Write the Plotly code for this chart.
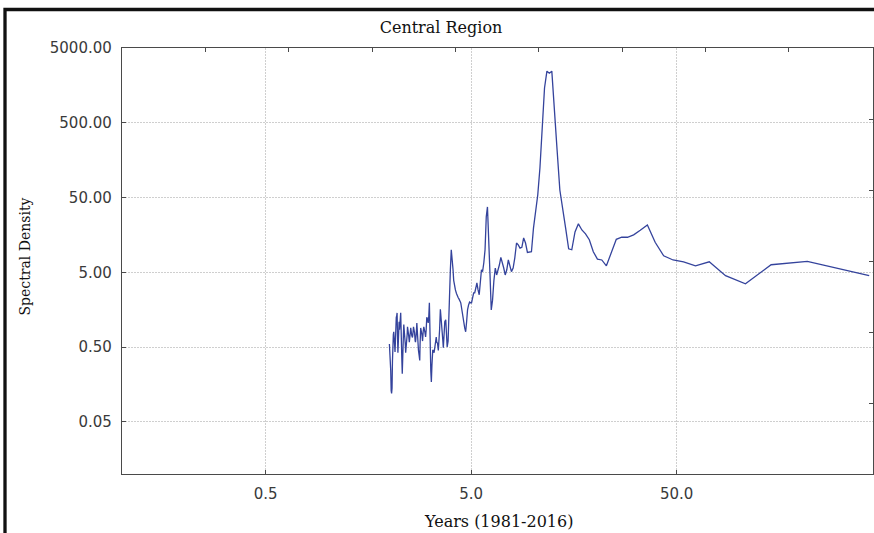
import plotly.graph_objects as go

# Period (x axis) of each periodogram harmonic, k = 1 .. 216
periods = [
    432, 216, 144, 108, 86.4, 72, 61.71, 54, 48, 43.2,
    39.27, 36, 33.23, 30.86, 28.8, 27, 25.41, 24, 22.74, 21.6,
    20.57, 19.64, 18.78, 18, 17.28, 16.62, 16, 15.43, 14.9, 14.4,
    13.94, 13.5, 13.09, 12.71, 12.34, 12, 11.68, 11.37, 11.08, 10.8,
    10.54, 10.29, 10.05, 9.82, 9.6, 9.39, 9.19, 9, 8.82, 8.64,
    8.47, 8.31, 8.15, 8, 7.85, 7.71, 7.58, 7.45, 7.32, 7.2,
    7.08, 6.97, 6.86, 6.75, 6.65, 6.55, 6.45, 6.35, 6.26, 6.17,
    6.08, 6, 5.92, 5.84, 5.76, 5.68, 5.61, 5.54, 5.47, 5.4,
    5.33, 5.27, 5.2, 5.14, 5.08, 5.02, 4.97, 4.91, 4.85, 4.8,
    4.75, 4.7, 4.65, 4.6, 4.55, 4.5, 4.45, 4.41, 4.36, 4.32,
    4.28, 4.24, 4.19, 4.15, 4.11, 4.08, 4.04, 4, 3.96, 3.93,
    3.89, 3.86, 3.82, 3.79, 3.76, 3.72, 3.69, 3.66, 3.63, 3.6,
    3.57, 3.54, 3.51, 3.48, 3.46, 3.43, 3.4, 3.38, 3.35, 3.32,
    3.3, 3.27, 3.25, 3.22, 3.2, 3.18, 3.15, 3.13, 3.11, 3.09,
    3.06, 3.04, 3.02, 3, 2.98, 2.96, 2.94, 2.92, 2.9, 2.88,
    2.86, 2.84, 2.82, 2.81, 2.79, 2.77, 2.75, 2.73, 2.72, 2.7,
    2.68, 2.67, 2.65, 2.63, 2.62, 2.6, 2.59, 2.57, 2.56, 2.54,
    2.53, 2.51, 2.5, 2.48, 2.47, 2.45, 2.44, 2.43, 2.41, 2.4,
    2.39, 2.37, 2.36, 2.35, 2.34, 2.32, 2.31, 2.3, 2.29, 2.27,
    2.26, 2.25, 2.24, 2.23, 2.22, 2.2, 2.19, 2.18, 2.17, 2.16,
    2.15, 2.14, 2.13, 2.12, 2.11, 2.1, 2.09, 2.08, 2.07, 2.06,
    2.05, 2.04, 2.03, 2.02, 2.01, 2,
]

# Spectral density, same order as periods
density = [
    4.5, 7.0, 6.3, 3.5, 4.5, 6.9, 6.1, 6.9, 7.3, 8.3,
    12.6, 21.5, 18.2, 15.8, 14.7, 14.7, 13.8, 9.1, 6.1, 7.3,
    7.5, 9.4, 13.6, 16.3, 18.4, 22.2, 17.3, 10.0, 10.3, 19.6,
    34, 63, 216, 697, 2450, 2300, 2450, 1460, 400, 124,
    54, 32, 19.6, 9.4, 9.2, 9.2, 12.3, 14.4, 10.8, 10.5,
    11.6, 12.3, 7.8, 5.7, 5.1, 6.3, 7.3, 5.4, 4.6, 5.7,
    6.7, 7.9, 6.3, 5.4, 4.6, 5.7, 3.9, 2.1, 1.57, 4.9,
    13.6, 37.4, 27.5, 10, 6.7, 5.1, 5.4, 3.2, 2.5, 2.9,
    3.6, 3.1, 2.65, 2.65, 2.1, 1.95, 1.95, 2.0, 1.8, 1.57,
    1.09, 0.8, 0.9, 1.05, 1.3, 1.6, 1.95, 2.1, 2.2, 2.3,
    2.4, 2.6, 2.9, 3.4, 3.9, 5.4, 8.3, 10, 5.4, 2.1,
    1.43, 0.6, 0.5, 0.85, 1.16, 1.09, 0.73, 0.49, 0.67, 0.93,
    1.3, 1.6, 0.85, 0.54, 0.45, 0.56, 0.58, 0.68, 0.54, 0.43,
    0.42, 0.45, 0.45, 0.28, 0.17, 0.24, 0.85, 1.95, 1.3, 1.05,
    1.2, 1.25, 0.85, 0.68, 0.78, 0.9, 0.93, 0.8, 0.6, 0.73,
    0.85, 0.9, 0.54, 0.33, 0.39, 0.45, 0.67, 0.9, 1.05, 0.73,
    0.58, 0.6, 0.78, 0.9, 0.93, 0.73, 0.67, 0.71, 0.85, 0.9,
    0.8, 0.68, 0.58, 0.73, 0.85, 0.93, 0.73, 0.6, 0.45, 0.42,
    0.54, 0.73, 0.9, 1.0, 0.73, 0.39, 0.22, 0.33, 0.85, 1.43,
    1.2, 1.09, 0.85, 1.09, 0.73, 0.42, 0.73, 1.43, 1.3, 1.25,
    0.85, 0.54, 0.43, 0.54, 0.6, 0.8, 0.73, 0.54, 0.33, 0.14,
    0.12, 0.13, 0.24, 0.45, 0.54, 0.55,
]

x_tick_vals = [0.5, 5, 50]
x_tick_text = ["0.5", "5.0", "50.0"]
y_tick_vals = [0.05, 0.5, 5, 50, 500, 5000]
y_tick_text = ["0.05", "0.50", "5.00", "50.00", "500.00", "5000.00"]

title_text = "Central Region"
x_title = "Years (1981-2016)"
y_title = "Spectral Density"

W, H = 874, 533
ML, MR, MT, MB = 122, 1, 48, 59
PW, PH = W - ML - MR, H - MT - MB

def px_x(p):
    return (p - ML) / PW

def px_y(p):
    return (H - MB - p) / PH

serif = "DejaVu Serif"
sans = "DejaVu Sans"
axis_col = "#4a4a4a"
grid_col = "#cfcfcf"

fig = go.Figure()
fig.add_trace(go.Scatter(
    x=periods, y=density, mode="lines",
    line=dict(color="#34439c", width=1.3),
    showlegend=False, hoverinfo="x+y",
))

fig.update_layout(
    width=W, height=H,
    margin=dict(l=ML, r=MR, t=MT, b=MB),
    paper_bgcolor="white", plot_bgcolor="white",
    showlegend=False,
    xaxis=dict(
        type="log", range=[-1, 2.654],
        tickvals=x_tick_vals, ticktext=x_tick_text,
        ticks="inside", ticklen=4, tickcolor=axis_col, tickwidth=1.2,
        showline=True, linecolor=axis_col, linewidth=1.4, mirror=True,
        showgrid=True, gridcolor=grid_col, griddash="2px,1px", gridwidth=1,
        zeroline=False,
        tickfont=dict(family=sans, size=15, color="#3a3a3a"),
        ticklabelstandoff=6,
    ),
    yaxis=dict(
        type="log", range=[-2, 3.699],
        tickvals=y_tick_vals, ticktext=y_tick_text,
        ticks="inside", ticklen=4, tickcolor=axis_col, tickwidth=1.2,
        showline=True, linecolor=axis_col, linewidth=1.4, mirror=True,
        showgrid=True, gridcolor=grid_col, griddash="2px,1px", gridwidth=1,
        zeroline=False,
        tickfont=dict(family=sans, size=15, color="#3a3a3a"),
        ticklabelstandoff=6,
    ),
    xaxis2=dict(
        overlaying="x", side="top", anchor="y", range=[0, 9.01],
        tickvals=[1, 2, 3, 4, 5, 6, 7, 8], ticks="inside", ticklen=4,
        tickcolor=axis_col, tickwidth=1.2,
        showticklabels=False, showgrid=False, showline=False, zeroline=False,
    ),
    yaxis2=dict(
        overlaying="y", side="right", anchor="x", range=[0, 6],
        tickvals=[1, 2, 3, 4, 5], ticks="inside", ticklen=4,
        tickcolor=axis_col, tickwidth=1.2,
        showticklabels=False, showgrid=False, showline=False, zeroline=False,
    ),
    title=dict(
        text=title_text, x=441 / W, xref="container", xanchor="center",
        y=1 - 27 / H, yref="container", yanchor="middle",
        font=dict(family=serif, size=16, color="#111111"),
    ),
)

fig.add_trace(go.Scatter(x=[None], y=[None], xaxis="x2", yaxis="y2",
                         mode="lines", showlegend=False, hoverinfo="skip"))

fig.add_annotation(
    text=x_title, xref="paper", yref="paper",
    x=px_x(498), y=px_y(521), xanchor="center", yanchor="middle",
    showarrow=False, font=dict(family=serif, size=16, color="#111111"),
)
fig.add_annotation(
    text=y_title, xref="paper", yref="paper", textangle=-90,
    x=px_x(24.5), y=px_y(257), xanchor="center", yanchor="middle",
    showarrow=False, font=dict(family=serif, size=14, color="#111111"),
)

# outer frame (left and top edges visible in the picture)
fig.add_shape(
    type="path", xref="paper", yref="paper",
    path=f"M {px_x(5)} {px_y(540)} L {px_x(5)} {px_y(9.5)} L {px_x(880)} {px_y(9.5)}",
    line=dict(color="#111111", width=3.3),
)

fig.write_html("out.html")
